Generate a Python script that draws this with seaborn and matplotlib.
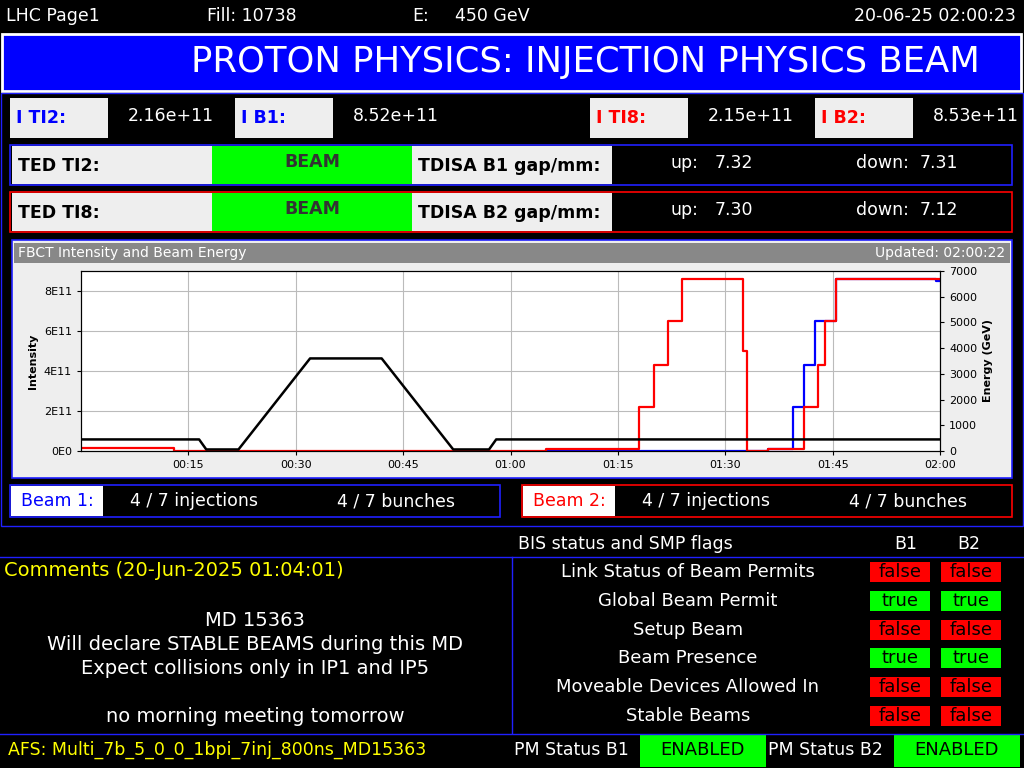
import matplotlib
matplotlib.use("Agg")
import matplotlib.pyplot as plt
import seaborn as sns
import pandas as pd
import numpy as np
from matplotlib.patches import Rectangle

# ---- data (minutes after 00:00) ----
energy_t = [0, 16.5, 17.5, 22, 32, 42, 52, 57, 58, 120]
energy_v = [450, 450, 60, 60, 3600, 3600, 60, 60, 450, 450]
b2_t = [0, 13, 65, 78, 80, 82, 84, 92.5, 93, 96, 101, 103, 104, 105.5, 120]
b2_v = [1.5e10, 0, 1e10, 2.2e11, 4.3e11, 6.5e11, 8.6e11, 5e11, 0, 1e10, 2.2e11, 4.3e11, 6.5e11, 8.6e11, 8.6e11]
b1_t = [65, 96, 99.5, 101, 102.5, 105.5, 119.5, 120]
b1_v = [0, 1e10, 2.2e11, 4.3e11, 6.5e11, 8.6e11, 8.5e11, 8.5e11]
time_ticks = [15, 30, 45, 60, 75, 90, 105, 120]
time_labels = ["00:15", "00:30", "00:45", "01:00", "01:15", "01:30", "01:45", "02:00"]
int_ticks = [0, 2e11, 4e11, 6e11, 8e11]
int_labels = ["0E0", "2E11", "4E11", "6E11", "8E11"]

W, H = 1024, 768
fig = plt.figure(figsize=(10.24, 7.68), dpi=100, facecolor="black")
bg = fig.add_axes([0, 0, 1, 1]); bg.set_xlim(0, W); bg.set_ylim(H, 0); bg.axis("off")

def rect(x, y, w, h, fc, ec=None, lw=1.2):
    bg.add_patch(Rectangle((x, y), w, h, facecolor=fc, edgecolor=ec if ec else "none", lw=lw))
def txt(x, y, s, c="white", size=12.5, ha="left", **kw):
    bg.text(x, y, s, color=c, fontsize=size, ha=ha, va="center", family="DejaVu Sans", **kw)

# header
txt(6, 16, "LHC Page1"); txt(207, 16, "Fill: 10738")
txt(412, 16, "E:"); txt(455, 16, "450 GeV")
txt(1016, 16, "20-06-25 02:00:23", ha="right")
rect(2, 34, 1019, 57, "#0000ff", "white", 2)
txt(980, 62, "PROTON PHYSICS: INJECTION PHYSICS BEAM", size=25.5, ha="right")
rect(1, 93, 1022, 433, "none", "#2020ff", 1)

# intensity line
for x, lab, c, val in [(10, "I TI2:", "blue", "2.16e+11"), (235, "I B1:", "blue", "8.52e+11"),
                       (590, "I TI8:", "red", "2.15e+11"), (815, "I B2:", "red", "8.53e+11")]:
    rect(x, 98, 98, 40, "#eeeeee")
    txt(x + 6, 118, lab, c=c, fontweight="bold")
    txt(x + 118, 116, val)

for y, ted, tdisa, up, dn, ec in [(145, "TED TI2:", "TDISA B1 gap/mm:", "7.32", "7.31", "#2020ff"),
                                  (192, "TED TI8:", "TDISA B2 gap/mm:", "7.30", "7.12", "red")]:
    rect(10, y, 1002, 40, "black", ec)
    rect(12, y + 1, 200, 38, "#eeeeee"); txt(18, y + 21, ted, c="black", fontweight="bold")
    rect(212, y + 1, 200, 38, "#00ff00"); txt(312, y + 17, "BEAM", c="#333333", fontweight="bold", ha="center")
    rect(412, y + 1, 200, 38, "#eeeeee"); txt(418, y + 21, tdisa, c="black", fontweight="bold")
    txt(670, y + 18, "up:"); txt(715, y + 18, up)
    txt(856, y + 18, "down:"); txt(920, y + 18, dn)

# chart panel
rect(12, 240, 1000, 238, "#eeeeee", "#2020ff")
rect(14, 243, 996, 20, "#888888")
txt(18, 253, "FBCT Intensity and Beam Energy", size=10)
txt(1005, 253, "Updated: 02:00:22", size=10, ha="right")

ax = fig.add_axes([81 / W, 1 - 451 / H, (940 - 81) / W, 180 / H], facecolor="#ffffff")
ax.patch.set_visible(True)
ax.patch.set_facecolor("#ffffff")
sns.lineplot(x=b1_t, y=b1_v, ax=ax, color="blue", lw=1.6, drawstyle="steps-post")
sns.lineplot(x=b2_t, y=b2_v, ax=ax, color="red", lw=1.6, drawstyle="steps-post")
ax.set_xlim(0, 120); ax.set_ylim(0, 9e11)
ax.set_xticks(time_ticks); ax.set_xticklabels(time_labels, fontsize=8)
ax.set_yticks(int_ticks); ax.set_yticklabels(int_labels, fontsize=8)
ax.grid(color="#bbbbbb", lw=0.8)
ax.set_ylabel("Intensity", fontsize=8, fontweight="bold")
ax.tick_params(length=3)
ax2 = ax.twinx()
sns.lineplot(x=energy_t, y=energy_v, ax=ax2, color="black", lw=1.8)
ax2.set_ylim(0, 7000); ax2.set_yticks(range(0, 7001, 1000))
ax2.tick_params(labelsize=8, length=3)
ax2.set_ylabel("Energy (GeV)", fontsize=8, fontweight="bold")

# beam rows
for x, lab, c in [(10, "Beam 1:", "blue"), (522, "Beam 2:", "red")]:
    rect(x, 485, 490, 32, "black", "#2020ff" if c == "blue" else "red")
    rect(x + 1, 486, 92, 30, "white"); txt(x + 47, 501, lab, c=c, ha="center")
    txt(x + 184, 501, "4 / 7 injections", ha="center")
    txt(x + 386, 501, "4 / 7 bunches", ha="center")

# bottom section
bg.plot([0, 1024], [557, 557], color="#2020ff", lw=1)
bg.plot([512, 512], [557, 733], color="#2020ff", lw=1)
bg.plot([0, 1024], [734, 734], color="#2020ff", lw=1)
txt(518, 544, "BIS status and SMP flags")
txt(906, 544, "B1", ha="center"); txt(969, 544, "B2", ha="center")
txt(4, 571, "Comments (20-Jun-2025 01:04:01)", c="#ffff00", size=14)
for y, s in [(621, "MD 15363"), (645, "Will declare STABLE BEAMS during this MD"),
             (669, "Expect collisions only in IP1 and IP5"), (717, "no morning meeting tomorrow")]:
    txt(255, y, s, size=14, ha="center")
flags = [("Link Status of Beam Permits", False), ("Global Beam Permit", True), ("Setup Beam", False),
         ("Beam Presence", True), ("Moveable Devices Allowed In", False), ("Stable Beams", False)]
for i, (name, v) in enumerate(flags):
    y = 572 + i * 28.8
    txt(688, y, name, size=13, ha="center")
    for x in (870, 941):
        rect(x, y - 10, 60, 20, "#00ff00" if v else "#ff0000")
        txt(x + 30, y, "true" if v else "false", c="black", size=13, ha="center")
txt(8, 750, "AFS: Multi_7b_5_0_0_1bpi_7inj_800ns_MD15363", c="#ffff00", size=12.5)
txt(514, 750, "PM Status B1"); txt(768, 750, "PM Status B2")
for x in (640, 894):
    rect(x, 735, 126, 32, "#00ff00")
    txt(x + 63, 750, "ENABLED", c="black", size=13, ha="center")

fig.savefig("out.png", dpi=100, facecolor="black")
